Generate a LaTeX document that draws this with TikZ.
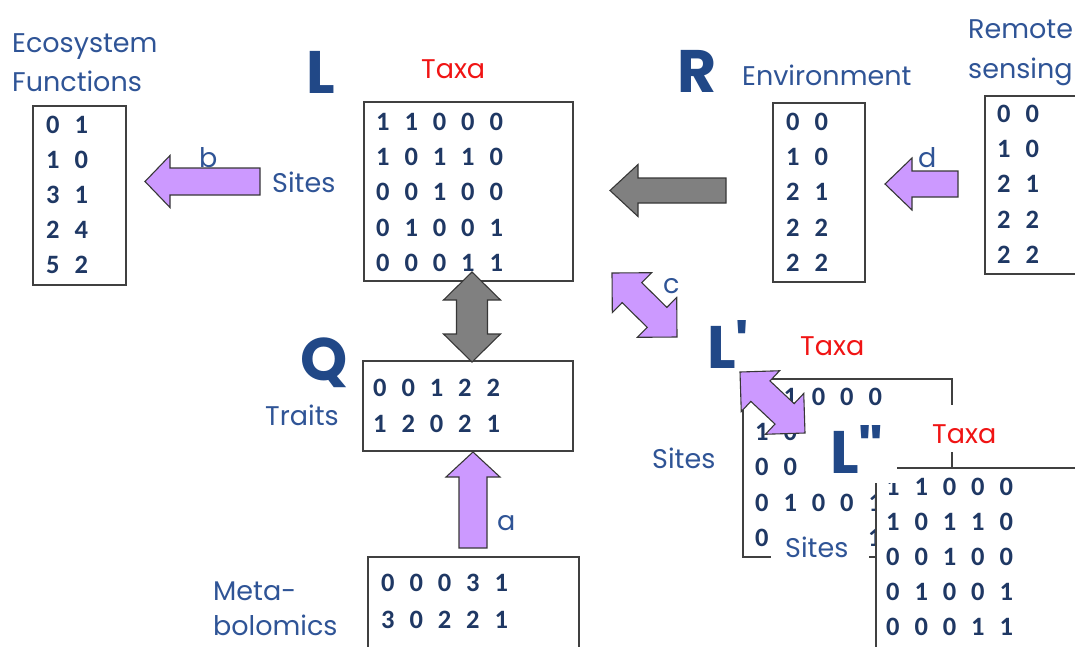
\documentclass[tikz,border=0pt]{standalone}
\usepackage{fontspec}
\usetikzlibrary{calc}
\newfontfamily\comic{Poppins}
\newfontfamily\carlito{Carlito}
\definecolor{labelblue}{RGB}{47,84,150}
\definecolor{numblue}{RGB}{31,56,100}
\definecolor{bigblue}{RGB}{33,72,135}
\definecolor{purp}{RGB}{204,153,255}
\definecolor{garr}{RGB}{128,128,128}
\definecolor{aline}{RGB}{55,55,55}
\definecolor{boxgray}{RGB}{64,64,64}
\definecolor{taxared}{RGB}{240,20,20}
\newcommand\labf{\comic\fontsize{27}{30}\selectfont}
\newcommand\bigf{\comic\bfseries\fontsize{60}{60}\selectfont}
\newcommand\numf{\carlito\bfseries\fontsize{26.5}{30}\selectfont\spaceskip=14.9pt\relax}
\newcommand\mat[5]{\foreach \r [count=\i] in {#5} {\node[num] (#1-\i) at (#2, {#3+(\i-1)*#4}) {\r};}}
\newcommand\sarr[6]{%
 \coordinate (#2-hb) at ($(#2)!#6!(#3)$);
 \path[#1] (#2) -- ($(#2-hb)!#5!90:(#3)$) -- ($(#2-hb)!#4!90:(#3)$) -- ($(#3)!#4!-90:(#2)$) -- ($(#3)!#4!90:(#2)$) -- ($(#2-hb)!#4!-90:(#3)$) -- ($(#2-hb)!#5!-90:(#3)$) -- cycle;}
\newcommand\darr[6]{%
 \coordinate (#2-hb) at ($(#2)!#6!(#3)$);
 \coordinate (#3-hb) at ($(#3)!#6!(#2)$);
 \path[#1] (#2) -- ($(#2-hb)!#5!90:(#3)$) -- ($(#2-hb)!#4!90:(#3)$) -- ($(#3-hb)!#4!-90:(#2)$) -- ($(#3-hb)!#5!-90:(#2)$) -- (#3) -- ($(#3-hb)!#5!90:(#2)$) -- ($(#3-hb)!#4!90:(#2)$) -- ($(#2-hb)!#4!-90:(#3)$) -- ($(#2-hb)!#5!-90:(#3)$) -- cycle;}
\tikzset{
 lab/.style={font=\labf, text=labelblue, inner sep=0, anchor=base west},
 taxa/.style={font=\labf, text=taxared, inner sep=0, anchor=base west},
 big/.style={font=\bigf, text=bigblue, inner sep=0, anchor=base west},
 num/.style={font=\numf, text=numblue, inner sep=0, anchor=base west},
 mbox/.style={draw=boxgray, line width=1.5pt, fill=white},
 parrow/.style={fill=purp, draw=aline, line width=1.1pt, line join=miter},
 garrow/.style={fill=garr, draw=aline, line width=1.1pt, line join=miter},
}
\begin{document}
\begin{tikzpicture}[x=1pt,y=-1pt]
\useasboundingbox (0,0) rectangle (1075,646);
\clip (0,0) rectangle (1075,646);
% boxes
\draw[mbox] (33,106) rectangle (126,285);
\mat{ef}{46}{133.5}{35}{0 1,1 0,3 1,2 4,5 2}
\draw[mbox] (364,102) rectangle (573,281);
\mat{lm}{376}{130.5}{35.2}{1 1 0 0 0,1 0 1 1 0,0 0 1 0 0,0 1 0 0 1,0 0 0 1 1}
\draw[mbox] (773,103) rectangle (865,282);
\mat{env}{786}{130.5}{35.2}{0 0,1 0,2 1,2 2,2 2}
\draw[mbox] (985,96) rectangle (1090,274);
\mat{rs}{997}{122.5}{35.2}{0 0,1 0,2 1,2 2,2 2}
\draw[mbox] (363,361) rectangle (573,451);
\mat{qm}{373}{396.5}{36}{0 0 1 2 2,1 2 0 2 1}
\draw[mbox] (368,557) rectangle (579,670);
\mat{mm}{381}{591.5}{37}{0 0 0 3 1,3 0 2 2 1}
% L' (partly hidden behind L'')
\draw[mbox] (743,379) rectangle (952,557);
\mat{lp}{755}{405.5}{35.2}{1 1 0 0 0,1 0,0 0,0 1 0 0 1,0}
\node[num] (lp-5b) at (868,546.3) {1};
% L''
\draw[mbox] (876,468) rectangle (1090,670);
\mat{lpp}{886}{495.5}{35}{1 1 0 0 0,1 0 1 1 0,0 0 1 0 0,0 1 0 0 1,0 0 0 1 1}
\fill[white] (812,414) rectangle (897,483);
\fill[white] (925,405) rectangle (1000,452);
\fill[white] (771,522) rectangle (869,566);
% labels
\node[lab] (eco) at (12,52) {Ecosystem};
\node[lab] (fun) at (12,91) {Functions};
\node[lab] (sitesL) at (272,192) {Sites};
\node[taxa] (taxaL) at (421,78) {Taxa};
\node[big] (bigL) at (306,93) {L};
\node[big] (bigR) at (677,92) {R};
\node[lab] (envl) at (742,85) {Environment};
\node[lab] (rem) at (968,38) {Remote};
\node[lab] (sen) at (968,78) {sensing};
\node[lab] (lb) at (199,167) {b};
\node[lab] (ld) at (918,167) {d};
\node[lab] (lc) at (663,293) {c};
\node[lab] (la) at (497,530) {a};
\node[big] (bigQ) at (300,380) {Q};
\node[lab] (traits) at (265,425) {Traits};
\node[lab] (meta) at (213,600) {Meta-};
\node[lab] (bolo) at (213,635) {bolomics};
\node[big] (bigLp) at (707,368) {L\textquotesingle};
\node[taxa] (taxaLp) at (800,355) {Taxa};
\node[lab] (sitesLp) at (652,468) {Sites};
\node[big] (bigLpp) at (830,473) {L\textquotedbl};
\node[taxa] (taxaLpp) at (932,443) {Taxa};
\node[lab] (sitesLpp) at (785,557) {Sites};
% arrow end points
\coordinate (bt) at (145,181.5); \coordinate (bs) at (260,181.5);
\coordinate (gt) at (610,190.5); \coordinate (gs) at (726,190.5);
\coordinate (dt) at (885,184); \coordinate (ds) at (958,184);
\coordinate (at) at (473,452); \coordinate (as) at (473,548);
\coordinate (g1) at (472,272); \coordinate (g2) at (472,362);
\coordinate (c1) at (612,273); \coordinate (c2) at (677,337);
\coordinate (e1) at (740,372); \coordinate (e2) at (805,433);
\sarr{parrow}{bt}{bs}{13.5pt}{26pt}{25pt}
\sarr{garrow}{gt}{gs}{12.5pt}{26pt}{28pt}
\sarr{parrow}{dt}{ds}{13pt}{26pt}{27pt}
\sarr{parrow}{at}{as}{14pt}{27pt}{25pt}
\darr{garrow}{g1}{g2}{15.5pt}{28.5pt}{28pt}
\darr{parrow}{c1}{c2}{14pt}{28pt}{28pt}
\darr{parrow}{e1}{e2}{14pt}{28pt}{28pt}
\end{tikzpicture}
\end{document}
